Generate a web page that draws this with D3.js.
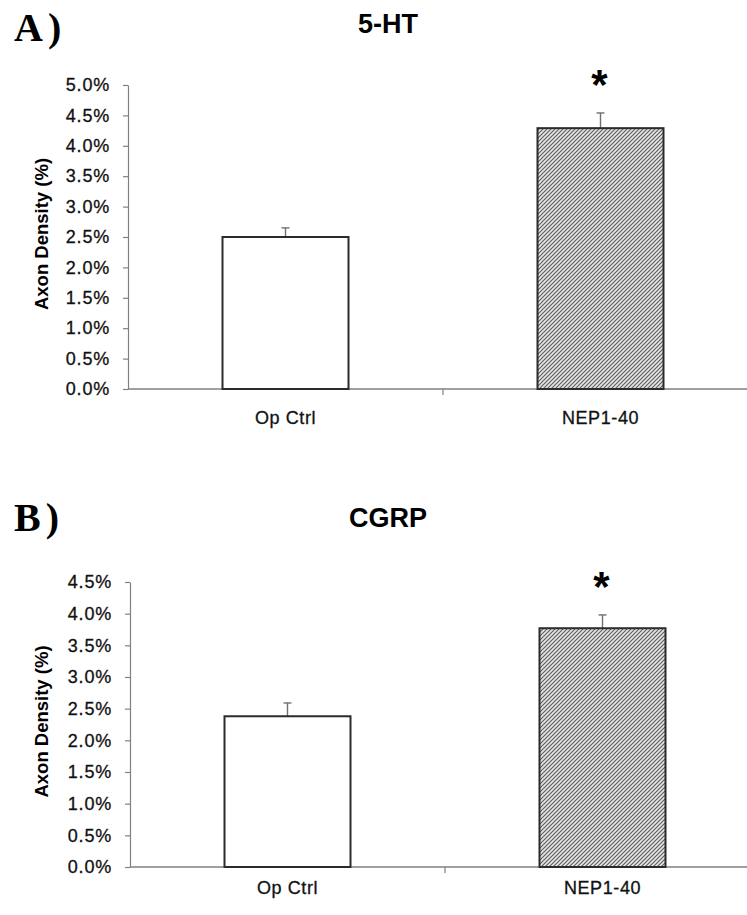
<!DOCTYPE html>
<html>
<head>
<meta charset="utf-8">
<script src="https://cdn.jsdelivr.net/npm/d3@7"></script>
<style>
  body { margin: 0; background: #fff; }
  text { font-family: 'Liberation Sans', Arial, sans-serif; }
</style>
</head>
<body>
<svg id="chart" width="747" height="915"></svg>
<script>
const categories = ['Op Ctrl', 'NEP1-40']

// panel A: 5-HT
const htValues = [0.0250, 0.0429]
const htErrors = [0.0015, 0.0025]
const htTicks = [0, 0.005, 0.01, 0.015, 0.02, 0.025, 0.03, 0.035, 0.04, 0.045, 0.05]

// panel B: CGRP
const cgrpValues = [0.0238, 0.0377]
const cgrpErrors = [0.0021, 0.0021]
const cgrpTicks = [0, 0.005, 0.01, 0.015, 0.02, 0.025, 0.03, 0.035, 0.04, 0.045]

const significant = [false, true]

const svg = d3.select('#chart')

// diagonal hatch for treated group
const defs = svg.append('defs')
const pat = defs.append('pattern')
  .attr('id', 'hatch')
  .attr('patternUnits', 'userSpaceOnUse')
  .attr('width', 4)
  .attr('height', 4)
pat.append('rect').attr('width', 4).attr('height', 4).attr('fill', '#e6e6e6')
pat.append('path')
  .attr('d', 'M-1,1 l2,-2 M0,4 l4,-4 M3,5 l2,-2')
  .attr('stroke', '#606060')
  .attr('stroke-width', 1.2)

const panels = [
  { letter: 'A)', title: '5-HT', values: htValues, errors: htErrors, ticks: htTicks,
    top: 85, bottom: 389, left: 128, letterY: 41, titleY: 33, labelY: 424 },
  { letter: 'B)', title: 'CGRP', values: cgrpValues, errors: cgrpErrors, ticks: cgrpTicks,
    top: 582, bottom: 867, left: 130, letterY: 531, titleY: 527, labelY: 894 }
]

panels.forEach(p => {
  const g = svg.append('g')
  const x = d3.scaleBand().domain(categories).range([p.left, p.left + 630])
  const y = d3.scaleLinear().domain([0, d3.max(p.ticks)]).range([p.bottom, p.top])
  const bw = x.bandwidth() * 0.4

  g.append('text')
    .attr('x', 14).attr('y', p.letterY)
    .style('font-family', "'Liberation Serif', 'Times New Roman', serif")
    .style('font-weight', 'bold').style('font-size', '40px')
    .style('letter-spacing', '5px')
    .text(p.letter)

  g.append('text')
    .attr('x', 388).attr('y', p.titleY)
    .attr('text-anchor', 'middle')
    .style('font-weight', 'bold').style('font-size', '27px')
    .text(p.title)

  // y axis
  const yAxis = g.append('g')
    .attr('transform', `translate(${p.left},0)`)
    .call(d3.axisLeft(y).tickValues(p.ticks).tickFormat(d3.format('.1%'))
      .tickSize(5).tickPadding(13).tickSizeOuter(0))
  yAxis.selectAll('path, line').attr('stroke', '#808080').attr('stroke-width', 1.2)
  yAxis.selectAll('text')
    .style('font-size', '18px').style('letter-spacing', '0.8px').attr('fill', '#111')
    .attr('stroke', '#111').attr('stroke-width', 0.3)
    .style('font-family', "'Liberation Sans', Arial, sans-serif")

  g.append('text')
    .attr('transform', `translate(42,${(p.top + p.bottom) / 2 - 3}) rotate(-90)`)
    .attr('text-anchor', 'middle')
    .attr('dy', '0.35em')
    .style('font-weight', 'bold').style('font-size', '18.5px')
    .text('Axon Density (%)')

  // x axis line and category boundary ticks
  g.append('line')
    .attr('x1', p.left).attr('x2', 747)
    .attr('y1', p.bottom).attr('y2', p.bottom)
    .attr('stroke', '#808080').attr('stroke-width', 1.4)
  g.selectAll('.xtick').data(categories.slice(1))
    .join('line')
    .attr('x1', d => x(d)).attr('x2', d => x(d))
    .attr('y1', p.bottom).attr('y2', p.bottom + 6)
    .attr('stroke', '#808080').attr('stroke-width', 1.2)

  g.selectAll('.xlabel').data(categories)
    .join('text')
    .attr('x', d => x(d) + x.bandwidth() / 2)
    .attr('y', p.labelY)
    .attr('text-anchor', 'middle')
    .style('font-size', '18px').style('letter-spacing', '0.6px').attr('fill', '#111')
    .attr('stroke', '#111').attr('stroke-width', 0.3)
    .text(d => d)

  const data = categories.map((c, i) => ({ c, v: p.values[i], e: p.errors[i], sig: significant[i], i }))

  // error bars (upper only)
  data.forEach(d => {
    const cx = x(d.c) + x.bandwidth() / 2
    g.append('line')
      .attr('x1', cx).attr('x2', cx)
      .attr('y1', y(d.v)).attr('y2', y(d.v + d.e))
      .attr('stroke', '#707070').attr('stroke-width', 1.4)
    g.append('line')
      .attr('x1', cx - 4).attr('x2', cx + 4)
      .attr('y1', y(d.v + d.e)).attr('y2', y(d.v + d.e))
      .attr('stroke', '#707070').attr('stroke-width', 1.4)
  })

  g.selectAll('.bar').data(data)
    .join('rect')
    .attr('x', d => x(d.c) + (x.bandwidth() - bw) / 2)
    .attr('y', d => y(d.v))
    .attr('width', bw)
    .attr('height', d => y(0) - y(d.v))
    .attr('fill', d => d.i === 0 ? '#fff' : 'url(#hatch)')
    .attr('stroke', '#2b2b2b')
    .attr('stroke-width', 2)

  g.selectAll('.star').data(data.filter(d => d.sig))
    .join('text')
    .attr('x', d => x(d.c) + x.bandwidth() / 2 - 1)
    .attr('y', d => y(d.v + d.e) - 14)
    .attr('text-anchor', 'middle')
    .style('font-weight', 'bold').style('font-size', '42px')
    .text('*')
})
</script>
</body>
</html>
